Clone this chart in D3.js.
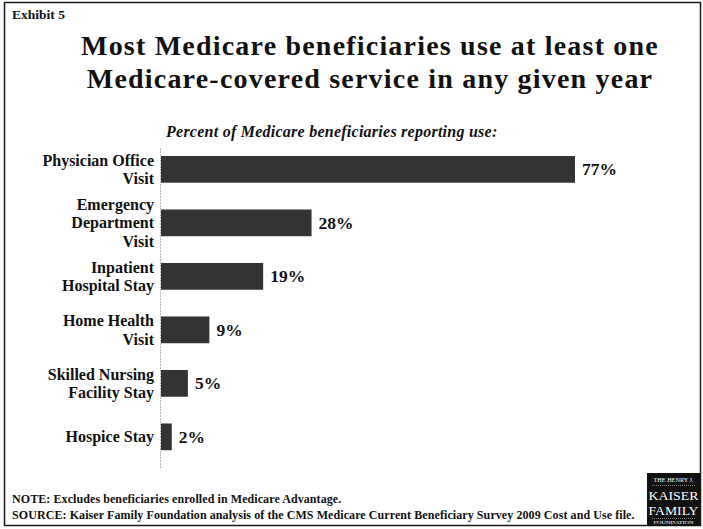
<!DOCTYPE html>
<html>
<head>
<meta charset="utf-8">
<script src="https://cdn.jsdelivr.net/npm/d3@7"></script>
<style>
  html, body { margin: 0; padding: 0; background: #fff; }
  svg { display: block; }
  text { font-family: "Liberation Serif", "DejaVu Serif", serif; fill: #111; }
</style>
</head>
<body>
<svg id="chart" width="703" height="529"></svg>
<script>
// Services (label lines) and share of beneficiaries reporting use, in percent
const categories = [
  ["Physician Office", "Visit"],
  ["Emergency", "Department", "Visit"],
  ["Inpatient", "Hospital Stay"],
  ["Home Health", "Visit"],
  ["Skilled Nursing", "Facility Stay"],
  ["Hospice Stay"]
];
const values = [77, 28, 19, 9, 5, 2];
const valueLabels = ["77%", "28%", "19%", "9%", "5%", "2%"];

const titleLines = [
  "Most Medicare beneficiaries use at least one",
  "Medicare-covered service in any given year"
];
const subtitle = "Percent of Medicare beneficiaries reporting use:";
const notes = [
  "NOTE: Excludes beneficiaries enrolled in Medicare Advantage.",
  "SOURCE: Kaiser Family Foundation analysis of the CMS Medicare Current Beneficiary Survey 2009 Cost and Use file."
];

const svg = d3.select("#chart");

// outer frame
svg.append("rect")
  .attr("x", 4.5).attr("y", 2.5)
  .attr("width", 696).attr("height", 523)
  .attr("fill", "#fff").attr("stroke", "#1a1a1a").attr("stroke-width", 1.5);

svg.append("text")
  .attr("x", 12).attr("y", 19)
  .attr("font-size", 13.5).attr("font-weight", "bold")
  .text("Exhibit 5");

svg.append("g").selectAll("text")
  .data(titleLines).join("text")
  .attr("x", 370)
  .attr("y", (d, i) => 55 + i * 33)
  .attr("text-anchor", "middle")
  .attr("font-size", 28).attr("font-weight", "bold")
  .attr("letter-spacing", 1.2)
  .text(d => d);

svg.append("text")
  .attr("x", 166).attr("y", 137)
  .attr("font-size", 16).attr("font-weight", "bold").attr("font-style", "italic")
  .attr("letter-spacing", 0.25)
  .text(subtitle);

// scales
const idx = categories.map((d, i) => i);
const x = d3.scaleLinear().domain([0, d3.max(values)]).range([161, 575]);
const y = d3.scaleBand().domain(idx).range([142.6, 463.6])
  .paddingInner(0.5).paddingOuter(0.25);

// category axis: dotted vertical line, multi-line labels
const axis = svg.append("g")
  .attr("transform", "translate(160,5)")
  .call(d3.axisLeft(y).tickSize(0).tickSizeOuter(0).tickFormat(""));
axis.select(".domain")
  .attr("stroke", "#b5b5b5").attr("stroke-width", 1).attr("stroke-dasharray", "2,1");

const lineH = 18.5;
const labels = svg.append("g");
idx.forEach(i => {
  const lines = categories[i];
  const cy = y(i) + y.bandwidth() / 2;
  const first = cy + 5.5 - (lines.length - 1) * lineH / 2;
  const t = labels.append("text")
    .attr("text-anchor", "end")
    .attr("font-size", 16).attr("font-weight", "bold");
  lines.forEach((ln, k) => {
    t.append("tspan").attr("x", 154).attr("y", first + k * lineH).text(ln);
  });
});

// bars
svg.append("g").selectAll("rect")
  .data(values).join("rect")
  .attr("x", x(0))
  .attr("y", (d, i) => y(i))
  .attr("width", d => x(d) - x(0))
  .attr("height", y.bandwidth())
  .attr("fill", "#333");

// value labels
svg.append("g").selectAll("text")
  .data(values).join("text")
  .attr("x", d => x(d) + 7)
  .attr("y", (d, i) => y(i) + y.bandwidth() / 2 + 6)
  .attr("font-size", 17.5).attr("font-weight", "bold")
  .text((d, i) => valueLabels[i]);

// notes
svg.append("g").selectAll("text")
  .data(notes).join("text")
  .attr("x", 12)
  .attr("y", (d, i) => 503 + i * 15.5)
  .attr("font-size", 12).attr("font-weight", "bold")
  .attr("letter-spacing", 0.08)
  .text(d => d);

// foundation logo block
const logo = svg.append("g").attr("transform", "translate(647,473)");
logo.append("rect").attr("width", 53).attr("height", 53).attr("fill", "#111");
logo.append("line").attr("x1", 5).attr("x2", 48).attr("y1", 12.5).attr("y2", 12.5)
  .attr("stroke", "#ccc").attr("stroke-width", 0.6).attr("stroke-dasharray", "1,1");
logo.append("line").attr("x1", 5).attr("x2", 48).attr("y1", 45.5).attr("y2", 45.5)
  .attr("stroke", "#ccc").attr("stroke-width", 0.6).attr("stroke-dasharray", "1,1");
const logoText = [
  { t: "THE HENRY J.", y: 9, s: 5.5 },
  { t: "KAISER", y: 27, s: 12 },
  { t: "FAMILY", y: 41.5, s: 12 },
  { t: "FOUNDATION", y: 51, s: 4.5 }
];
logo.selectAll("text").data(logoText).join("text")
  .attr("x", 26.5).attr("y", d => d.y)
  .attr("text-anchor", "middle")
  .attr("font-size", d => d.s)
  .style("fill", "#fff")
  .attr("textLength", d => d.s > 10 ? 50 : 40)
  .attr("lengthAdjust", "spacingAndGlyphs")
  .text(d => d.t);
</script>
</body>
</html>
